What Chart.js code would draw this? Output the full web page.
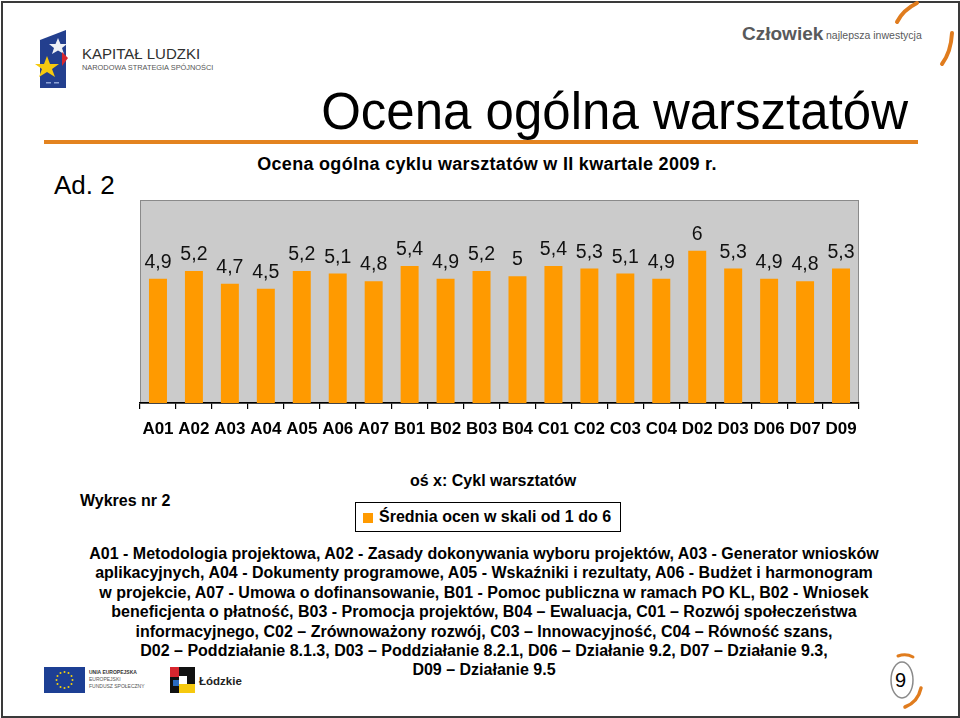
<!DOCTYPE html>
<html lang="pl">
<head>
<meta charset="utf-8">
<title>Ocena ogólna warsztatów</title>
<script src="https://cdn.jsdelivr.net/npm/chart.js@4.4.1/dist/chart.umd.min.js"></script>
<style>
    html, body { margin: 0; padding: 0; background: #fff; }
    body { width: 960px; height: 718px; position: relative; overflow: hidden;
        font-family: "Liberation Sans", Arial, sans-serif; color: #000; }
    .frame { position: absolute; left: 1px; top: 1px; width: 955px; height: 713px; border: 2px solid #3a3a3a; }
    .abs { position: absolute; white-space: nowrap; }
    #title { right: 52px; top: 84px; font-size: 51px; line-height: 56px; }
    #subtitle { left: 0; width: 974px; text-align: center; top: 154px; font-size: 18px; font-weight: bold; letter-spacing: 0.3px; }
    #ad { left: 54px; top: 170px; font-size: 26px; line-height: 30px; }
    #chartBox { position: absolute; left: 130px; top: 190px; width: 740px; height: 260px; }
    #wykres { left: 80px; top: 492px; font-size: 16px; font-weight: bold; }
    #osx { left: 410px; top: 472px; font-size: 16px; font-weight: bold; }
    #legend { position: absolute; left: 355px; top: 502px; width: 264px; height: 28px;
        border: 1.5px solid #000; font-size: 16px; font-weight: bold; line-height: 28px; white-space: nowrap; }
    #legend span.box { display: inline-block; width: 10px; height: 10px; margin: 0 6px 0 7px; vertical-align: -1px; }
    #notes { left: 0; width: 968px; top: 544px; text-align: center; font-size: 16px; font-weight: bold; line-height: 19.4px; }
</style>
</head>
<body>
<div class="frame"></div>

<svg class="abs" style="left:0;top:0" width="960" height="718" xmlns="http://www.w3.org/2000/svg">
    <!-- logo Kapitał Ludzki -->
    <polygon points="40,40 66,30 66,88 40,88" fill="#233f8e"/>
    <polygon points="58,38 60.5,44 67,44 62,48 64,54 58,50.5 52,54 54,48 49,44 55.5,44" fill="#eef0f5"/>
    <polygon points="62,52 68,58 62,66" fill="#d7262e"/>
    <polygon points="47,56 50,64 59,64 52,69 55,77 47,72 39,77 42,69 35,64 44,64" fill="#f6c90e"/>
    <rect x="46" y="82" width="5" height="1.5" fill="#8ea3d6"/>
    <rect x="54" y="82" width="5" height="1.5" fill="#8ea3d6"/>
    <text x="82" y="59" font-family="Liberation Sans, Arial" font-size="15" fill="#2f2f2f">KAPITAŁ LUDZKI</text>
    <text x="82" y="70" font-family="Liberation Sans, Arial" font-size="7.4" fill="#555">NARODOWA STRATEGIA SPÓJNOŚCI</text>

    <!-- Człowiek najlepsza inwestycja -->
    <text x="742" y="40" font-family="Liberation Sans, Arial" font-size="19" font-weight="bold" fill="#58595b">Człowiek</text>
    <text x="826" y="39" font-family="Liberation Sans, Arial" font-size="10.5" fill="#58595b">najlepsza inwestycja</text>
    <path d="M917 3 Q903 10 897 22" stroke="#e07c1e" stroke-width="4" fill="none" stroke-linecap="round"/>
    <path d="M952 33 Q951 52 942 64" stroke="#e07c1e" stroke-width="4" fill="none" stroke-linecap="round"/>

    <!-- linia pod tytułem -->
    <rect x="44" y="140" width="874" height="4" fill="#e3831f"/>

    <!-- UE -->
    <rect x="44" y="667" width="41" height="26" fill="#1d3f94"/>
    <g fill="#f5d20b">
        <circle cx="64.5" cy="672" r="1"/><circle cx="68.5" cy="673" r="1"/><circle cx="71.5" cy="676" r="1"/>
        <circle cx="72.5" cy="680" r="1"/><circle cx="71.5" cy="684" r="1"/><circle cx="68.5" cy="687" r="1"/>
        <circle cx="64.5" cy="688" r="1"/><circle cx="60.5" cy="687" r="1"/><circle cx="57.5" cy="684" r="1"/>
        <circle cx="56.5" cy="680" r="1"/><circle cx="57.5" cy="676" r="1"/><circle cx="60.5" cy="673" r="1"/>
    </g>
    <text x="89" y="674" font-family="Liberation Sans, Arial" font-size="5" font-weight="bold" fill="#333">UNIA EUROPEJSKA</text>
    <text x="89" y="681" font-family="Liberation Sans, Arial" font-size="5" fill="#555">EUROPEJSKI</text>
    <text x="89" y="688" font-family="Liberation Sans, Arial" font-size="5" fill="#555">FUNDUSZ SPOŁECZNY</text>

    <!-- Łódzkie -->
    <rect x="170" y="667" width="25" height="26" fill="#111"/>
    <rect x="170" y="667" width="9" height="10" fill="#d7262e"/>
    <rect x="179" y="684" width="16" height="9" fill="#f6c90e"/>
    <rect x="179" y="676" width="8" height="8" fill="#fff"/>
    <rect x="173" y="680" width="6" height="6" fill="#2a6bc0"/>
    <text x="199" y="685" font-family="Liberation Sans, Arial" font-size="11.5" font-weight="bold" fill="#222">Łódzkie</text>

    <!-- numer strony -->
    <ellipse cx="902" cy="680" rx="11" ry="18" stroke="#8a8a8a" stroke-width="1.5" fill="none"/>
    <path d="M898 656 Q906 653 913 657" stroke="#e07c1e" stroke-width="3" fill="none" stroke-linecap="round"/>
    <path d="M921 688 Q918 702 905 707" stroke="#e07c1e" stroke-width="3.5" fill="none" stroke-linecap="round"/>
    <text x="895" y="687" font-family="Liberation Sans, Arial" font-size="20" fill="#000">9</text>
</svg>

<div id="title" class="abs">Ocena ogólna warsztatów</div>
<div id="subtitle" class="abs">Ocena ogólna cyklu warsztatów w II kwartale 2009 r.</div>
<div id="ad" class="abs">Ad. 2</div>

<div id="chartBox"><canvas id="myChart"></canvas></div>

<div id="wykres" class="abs">Wykres nr 2</div>
<div id="osx" class="abs">oś x: Cykl warsztatów</div>
<div id="legend"></div>

<div id="notes" class="abs">
A01 - Metodologia projektowa, A02 - Zasady dokonywania wyboru projektów, A03 - Generator wniosków<br>
aplikacyjnych, A04 - Dokumenty programowe, A05 - Wskaźniki i rezultaty, A06 - Budżet i harmonogram<br>
w projekcie, A07 - Umowa o dofinansowanie, B01 - Pomoc publiczna w ramach PO KL, B02 - Wniosek<br>
beneficjenta o płatność, B03 - Promocja projektów, B04 – Ewaluacja, C01 – Rozwój społeczeństwa<br>
informacyjnego, C02 – Zrównoważony rozwój, C03 – Innowacyjność, C04 – Równość szans,<br>
D02 – Poddziałanie 8.1.3, D03 – Poddziałanie 8.2.1, D06 – Działanie 9.2, D07 – Działanie 9.3,<br>
D09 – Działanie 9.5
</div>

<script>
// dane z wykresu
const warsztaty = ["A01", "A02", "A03", "A04", "A05", "A06", "A07", "B01", "B02", "B03",
    "B04", "C01", "C02", "C03", "C04", "D02", "D03", "D06", "D07", "D09"];
const srednia = [4.9, 5.2, 4.7, 4.5, 5.2, 5.1, 4.8, 5.4, 4.9, 5.2,
    5, 5.4, 5.3, 5.1, 4.9, 6, 5.3, 4.9, 4.8, 5.3];
const etykieta = "Średnia ocen w skali od 1 do 6";
const skalaMin = 0;
const skalaMax = 8;

const fontFamily = '"Liberation Sans", Arial, sans-serif';
const orange = "#ff9a00";

// szare tło obszaru wykresu
const plotBg = {
    id: "plotBg",
    beforeDraw(chart) {
        const { ctx, chartArea: a } = chart;
        ctx.save();
        ctx.fillStyle = "#cbcbcb";
        ctx.fillRect(a.left, a.top, a.right - a.left, a.bottom - a.top);
        ctx.strokeStyle = "#8a8a8a";
        ctx.lineWidth = 1;
        ctx.strokeRect(a.left + 0.5, a.top + 0.5, a.right - a.left - 1, a.bottom - a.top);
        ctx.restore();
    },
};

// wartości nad słupkami
const valueLabels = {
    id: "valueLabels",
    afterDatasetsDraw(chart) {
        const ctx = chart.ctx;
        const meta = chart.getDatasetMeta(0);
        ctx.save();
        ctx.font = "19.5px " + fontFamily;
        ctx.fillStyle = "#111";
        ctx.textAlign = "center";
        ctx.textBaseline = "alphabetic";
        meta.data.forEach(function (bar, i) {
            ctx.fillText(String(srednia[i]).replace(".", ","), bar.x, bar.y - 11);
        });
        ctx.restore();
    },
};

const chart = new Chart(document.getElementById("myChart"), {
    type: "bar",
    data: {
        labels: warsztaty,
        datasets: [
            {
                label: etykieta,
                data: srednia,
                backgroundColor: orange,
                borderWidth: 0,
                categoryPercentage: 1,
                barPercentage: 0.5,
            },
        ],
    },
    options: {
        responsive: true,
        maintainAspectRatio: false,
        animation: false,
        layout: {
            padding: { left: 10, top: 10, right: 11, bottom: 0 },
        },
        plugins: {
            legend: { display: false },
            tooltip: { enabled: false },
        },
        scales: {
            x: {
                grid: {
                    offset: true,
                    drawOnChartArea: false,
                    drawTicks: true,
                    tickLength: 6,
                    color: "#000",
                    lineWidth: 1.2,
                },
                border: { color: "#000", width: 1.5 },
                ticks: {
                    color: "#000",
                    font: { family: fontFamily, size: 17, weight: "bold" },
                    padding: 10,
                    maxRotation: 0,
                    autoSkip: false,
                },
                afterFit: function (scale) {
                    scale.height = 47;
                },
            },
            y: {
                display: false,
                min: skalaMin,
                max: skalaMax,
            },
        },
    },
    plugins: [plotBg, valueLabels],
});

// legenda w ramce
document.getElementById("legend").innerHTML =
    '<span class="box" style="background:' + orange + '"></span>' + chart.data.datasets[0].label;
</script>
</body>
</html>
